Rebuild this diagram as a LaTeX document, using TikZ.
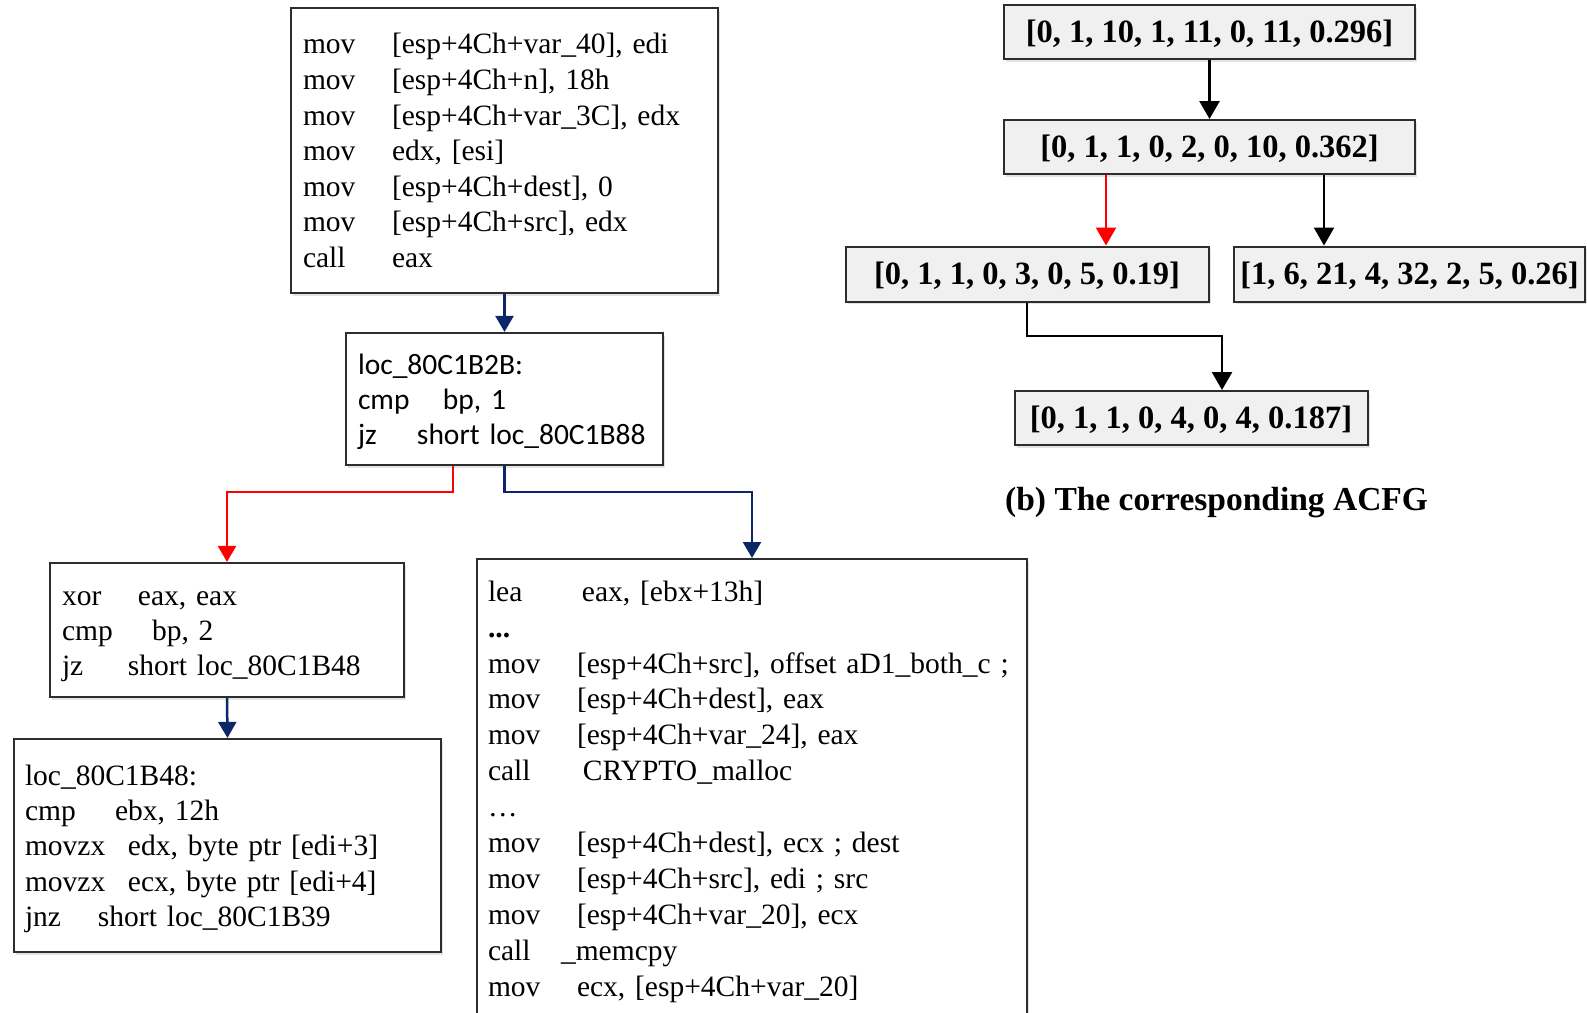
\documentclass[tikz,border=0pt]{standalone}
\usepackage{fontspec}
\setmainfont{Liberation Serif}
\newfontfamily\calibrifont{Carlito}
\usetikzlibrary{arrows.meta,shadows}

\definecolor{navy}{RGB}{12,38,104}
\definecolor{edgegray}{RGB}{45,45,45}
\definecolor{vecfill}{RGB}{240,240,240}

\begin{document}
\begin{tikzpicture}[x=1pt,y=-1pt,
  softshadow/.style={drop shadow={shadow xshift=2pt,shadow yshift=-2.5pt,opacity=0.22}},
  codebox/.style={draw=edgegray,line width=2.2pt,fill=white,align=left,
    font=\fontsize{29.5}{35.6}\selectfont,inner xsep=12pt,inner ysep=0pt,softshadow},
  vecbox/.style={draw=edgegray,line width=2pt,fill=vecfill,inner sep=0pt,
    text depth=1pt,font=\bfseries\fontsize{32.5}{36}\selectfont,softshadow},
  bluearrow/.style={draw=navy,line width=2.5pt,-{Triangle[width=18pt,length=16pt]}},
  redarrow/.style={draw=red,line width=2.5pt,-{Triangle[width=18pt,length=16pt]}},
  blackarrow/.style={draw=black,line width=2.5pt,-{Triangle[width=20pt,length=18pt]}},
  redvec/.style={draw=red,line width=2.5pt,-{Triangle[width=20pt,length=18pt]}}
]
\useasboundingbox (0,0) rectangle (1587,1012);
\clip (0,0) rectangle (1587,1012);
\fill[white] (0,0) rectangle (1587,1012);

% ---------- (a) basic blocks of the control flow graph ----------
\newcommand{\op}[2]{\makebox[#1pt][l]{#2}}
\newcommand{\topstrut}{\rule{0pt}{31pt}}

\node[codebox,text width=403pt,minimum height=285pt] (b1) at (504.5,150.5) {%
\topstrut\op{89}{mov}[esp+4Ch+var\_40], edi\\
\op{89}{mov}[esp+4Ch+n], 18h\\
\op{89}{mov}[esp+4Ch+var\_3C], edx\\
\op{89}{mov}edx, [esi]\\
\op{89}{mov}[esp+4Ch+dest], 0\\
\op{89}{mov}[esp+4Ch+src], edx\\
\op{89}{call}eax\strut};

\node[codebox,text width=293pt,minimum height=132pt,
  font=\calibrifont\fontsize{29.5}{35}\selectfont] (b2) at (504.5,399) {%
\topstrut loc\_80C1B2B:\\
\op{85}{cmp}bp, 1\\
\op{59}{jz}short loc\_80C1B88\strut};

\node[codebox,text width=330pt,minimum height=134pt,
  font=\fontsize{29.5}{35}\selectfont] (b3) at (227,630) {%
\topstrut\op{76}{xor}eax, eax\\
\op{90}{cmp}bp, 2\\
\op{66}{jz}short loc\_80C1B48\strut};

\node[codebox,inner xsep=11pt,text width=405pt,minimum height=213pt,
  font=\fontsize{29.5}{35.3}\selectfont] (b4) at (227.5,845.5) {%
\topstrut loc\_80C1B48:\\
\op{90}{cmp}ebx, 12h\\
\op{103}{movzx}edx, byte ptr [edi+3]\\
\op{103}{movzx}ecx, byte ptr [edi+4]\\
\op{73}{jnz}short loc\_80C1B39\strut};

\node[codebox,anchor=north,inner xsep=11pt,inner ysep=17pt,text width=528pt,
  font=\fontsize{29.5}{35.9}\selectfont] (b5) at (752,558) {%
\strut\op{94}{lea}eax, [ebx+13h]\\
{\bfseries ...}\\
\op{89}{mov}[esp+4Ch+src], offset aD1\_both\_c ;\\
\op{89}{mov}[esp+4Ch+dest], eax\\
\op{89}{mov}[esp+4Ch+var\_24], eax\\
\op{95}{call}CRYPTO\_malloc\\
…\\
\op{89}{mov}[esp+4Ch+dest], ecx ; dest\\
\op{89}{mov}[esp+4Ch+src], edi ; src\\
\op{89}{mov}[esp+4Ch+var\_20], ecx\\
\op{73}{call}\_memcpy\\
\op{89}{mov}ecx, [esp+4Ch+var\_20]\strut\\[20pt]};

\coordinate (jl) at (453,492);
\coordinate (jr) at (504.5,492);

\draw[bluearrow] (b1.south) -- (b2.north);
\draw[redarrow] (b2.south -| jl) -- (jl) -| (b3.north);
\draw[bluearrow] (b2.south) -- (jr) -| (b5.north);
\draw[bluearrow] (b3.south) -- (b4.north);

% ---------- (b) attributed control flow graph ----------
\node[vecbox,minimum width=411pt,minimum height=54pt] (g1) at (1209.5,32) {[0, 1, 10, 1, 11, 0, 11, 0.296]};
\node[vecbox,minimum width=411pt,minimum height=54pt] (g2) at (1209.5,147) {[0, 1, 1, 0, 2, 0, 10, 0.362]};
\node[vecbox,minimum width=363pt,minimum height=55pt] (g3) at (1027,274) {[0, 1, 1, 0, 3, 0, 5, 0.19]};
\node[vecbox,minimum width=351pt,minimum height=55pt] (g4) at (1409.5,274) {[1, 6, 21, 4, 32, 2, 5, 0.26]};
\node[vecbox,minimum width=353pt,minimum height=54pt] (g5) at (1191,418) {[0, 1, 1, 0, 4, 0, 4, 0.187]};

\coordinate (xr) at (1106,0);
\coordinate (xb) at (1324,0);
\coordinate (xe) at (1222,0);
\coordinate (yturn) at (0,336);

\draw[blackarrow] (g1.south) -- (g2.north);
\draw[redvec] (g2.south -| xr) -- (g3.north -| xr);
\draw[blackarrow] (g2.south -| xb) -- (g4.north -| xb);
\draw[blackarrow] (g3.south) |- (yturn -| xe) -- (g5.north -| xe);

\node[anchor=base west,inner sep=0pt,font=\bfseries\fontsize{33.5}{38}\selectfont] (cap)
  at (1005,510) {(b) The corresponding ACFG};
\end{tikzpicture}
\end{document}
